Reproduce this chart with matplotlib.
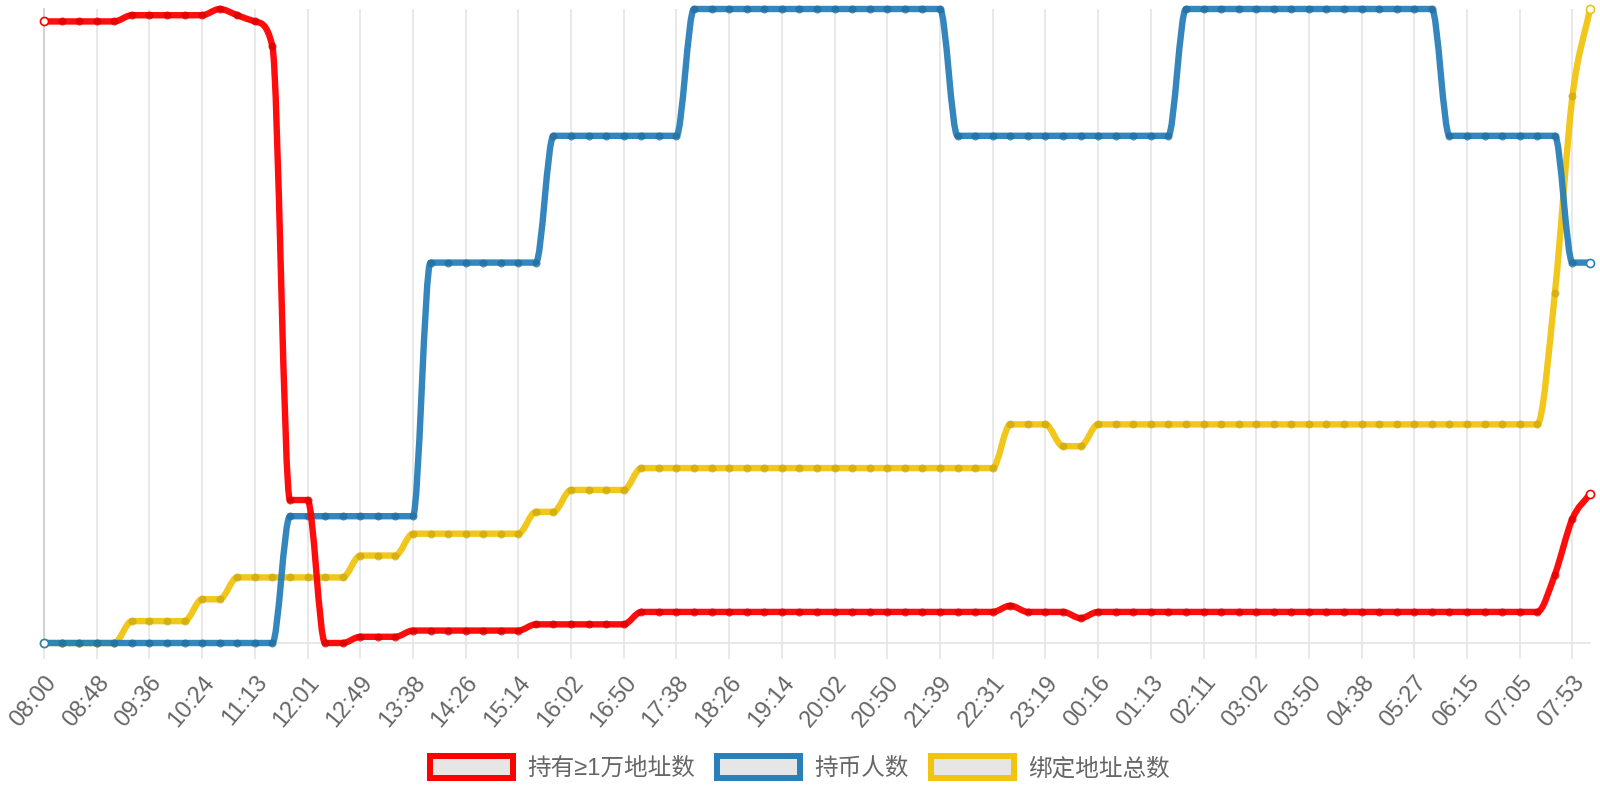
import numpy as np
import matplotlib
matplotlib.use('Agg')
import matplotlib.pyplot as plt
from matplotlib.path import Path
from matplotlib.patches import PathPatch, Patch
from matplotlib.colors import to_rgb

plt.rcParams['font.family'] = ['Liberation Sans', 'Noto Sans CJK SC', 'DejaVu Sans']

# x axis labels (one every third sample, as shown on the chart)
tick_labels = ['08:00', '08:48', '09:36', '10:24', '11:13', '12:01', '12:49', '13:38',
               '14:26', '15:14', '16:02', '16:50', '17:38', '18:26', '19:14', '20:02',
               '20:50', '21:39', '22:31', '23:19', '00:16', '01:13', '02:11', '03:02',
               '03:50', '04:38', '05:27', '06:15', '07:05', '07:53']

series_names = ['持有≥1万地址数', '持币人数', '绑定地址总数']

red_vals = [100, 100, 100, 100, 100, 101, 101, 101, 101, 101,
            102, 101, 100, 96, 23, 23, 0, 0, 1, 1,
            1, 2, 2, 2, 2, 2, 2, 2, 3, 3,
            3, 3, 3, 3, 5, 5, 5, 5, 5, 5,
            5, 5, 5, 5, 5, 5, 5, 5, 5, 5,
            5, 5, 5, 5, 5, 6, 5, 5, 5, 4,
            5, 5, 5, 5, 5, 5, 5, 5, 5, 5,
            5, 5, 5, 5, 5, 5, 5, 5, 5, 5,
            5, 5, 5, 5, 5, 5, 11, 20, 24]

blue_vals = [0, 0, 0, 0, 0, 0, 0, 0, 0, 0,
             0, 0, 0, 0, 1, 1, 1, 1, 1, 1,
             1, 1, 3, 3, 3, 3, 3, 3, 3, 4,
             4, 4, 4, 4, 4, 4, 4, 5, 5, 5,
             5, 5, 5, 5, 5, 5, 5, 5, 5, 5,
             5, 5, 4, 4, 4, 4, 4, 4, 4, 4,
             4, 4, 4, 4, 4, 5, 5, 5, 5, 5,
             5, 5, 5, 5, 5, 5, 5, 5, 5, 5,
             4, 4, 4, 4, 4, 4, 4, 3, 3]

yellow_vals = [0, 0, 0, 0, 0, 1, 1, 1, 1, 2,
               2, 3, 3, 3, 3, 3, 3, 3, 4, 4,
               4, 5, 5, 5, 5, 5, 5, 5, 6, 6,
               7, 7, 7, 7, 8, 8, 8, 8, 8, 8,
               8, 8, 8, 8, 8, 8, 8, 8, 8, 8,
               8, 8, 8, 8, 8, 10, 10, 10, 9, 9,
               10, 10, 10, 10, 10, 10, 10, 10, 10, 10,
               10, 10, 10, 10, 10, 10, 10, 10, 10, 10,
               10, 10, 10, 10, 10, 10, 16, 25, 29]

colors = ['#ff0000', '#2980b9', '#f1c40f']

W, H = 1600, 800
left_px, right_px, top_px, bottom_px = 44, 1590, 9, 643


def monotone_path(xs, ys):
    # monotone cubic interpolation, same idea as chart.js 'monotone' mode
    xs = np.asarray(xs, dtype=float)
    ys = np.asarray(ys, dtype=float)
    n = len(xs)
    dk = np.diff(ys) / np.diff(xs)
    mk = np.zeros(n)
    mk[0] = dk[0]
    mk[-1] = dk[-1]
    for i in range(1, n - 1):
        if np.sign(dk[i - 1]) != np.sign(dk[i]):
            mk[i] = 0.0
        else:
            mk[i] = (dk[i - 1] + dk[i]) / 2.0
    for i in range(n - 1):
        if dk[i] == 0:
            mk[i] = mk[i + 1] = 0.0
            continue
        a = mk[i] / dk[i]
        b = mk[i + 1] / dk[i]
        sq = a * a + b * b
        if sq <= 9:
            continue
        tau = 3.0 / np.sqrt(sq)
        mk[i] = a * tau * dk[i]
        mk[i + 1] = b * tau * dk[i]
    verts = [(xs[0], ys[0])]
    codes = [Path.MOVETO]
    for i in range(n - 1):
        dx = (xs[i + 1] - xs[i]) / 3.0
        verts += [(xs[i] + dx, ys[i] + mk[i] * dx),
                  (xs[i + 1] - dx, ys[i + 1] - mk[i + 1] * dx),
                  (xs[i + 1], ys[i + 1])]
        codes += [Path.CURVE4] * 3
    return Path(verts, codes)


fig = plt.figure(figsize=(16, 8), dpi=100)
ax = fig.add_axes([left_px / W, 1 - bottom_px / H,
                   (right_px - left_px) / W, (bottom_px - top_px) / H])

x = np.arange(len(red_vals))
ax.set_xlim(0, len(x) - 1)
ax.set_xticks(x[::3], tick_labels)
ax.set_yticks([])
ax.grid(axis='x', color='#e3e3e3', linewidth=1.1)
ax.set_axisbelow(True)
for side in ('top', 'right'):
    ax.spines[side].set_visible(False)
ax.spines['left'].set_color('#c8c8c8')
ax.spines['left'].set_linewidth(1.1)
ax.spines['bottom'].set_color('#e3e3e3')
ax.spines['bottom'].set_linewidth(1.1)
ax.tick_params(axis='x', length=11.5, width=1.1, color='#e3e3e3', pad=9,
               labelsize=17, labelcolor='#666666')
for lbl in ax.get_xticklabels():
    lbl.set(rotation=50, ha='right', va='top', rotation_mode='anchor')

# yellow drawn first (bottom), red last (top), each on its own hidden scale
order = [(yellow_vals, colors[2]), (blue_vals, colors[1]), (red_vals, colors[0])]
axes = [ax, ax.twinx(), ax.twinx()]
for a, (vals, col) in zip(axes, order):
    vals = np.array(vals, dtype=float)
    lo, hi = vals.min(), vals.max()
    a.set_ylim(lo, hi)
    if a is not ax:
        a.set_yticks([])
        for sp in a.spines.values():
            sp.set_visible(False)
    a.add_patch(PathPatch(monotone_path(x, vals), fill=False, edgecolor=col,
                          linewidth=4.6, alpha=0.95, capstyle='round',
                          joinstyle='round', clip_on=False, zorder=2))
    dark = tuple(c * 0.85 for c in to_rgb(col))
    a.plot(x[1:-1], vals[1:-1], 'o', ls='none', ms=5.8, mfc=dark, mec='none',
           alpha=0.75, clip_on=False, zorder=3)
    a.plot(x[[0, -1]], vals[[0, -1]], 'o', ls='none', ms=5.8, mfc='white', mec=col,
           mew=1.2, clip_on=False, zorder=4)

handles = [Patch(facecolor='#e6e6e6', edgecolor=c, linewidth=4.3) for c in colors]
fig.legend(handles, series_names, loc='center', bbox_to_anchor=(0.5, 0.04), ncol=3,
           frameon=False, handlelength=3.5, handleheight=1.1, handletextpad=0.6,
           columnspacing=0.95, borderpad=0, labelcolor='#666666',
           prop={'family': ['Liberation Sans', 'Noto Sans CJK SC'], 'size': 17})

fig.savefig('out.png', dpi=100)
